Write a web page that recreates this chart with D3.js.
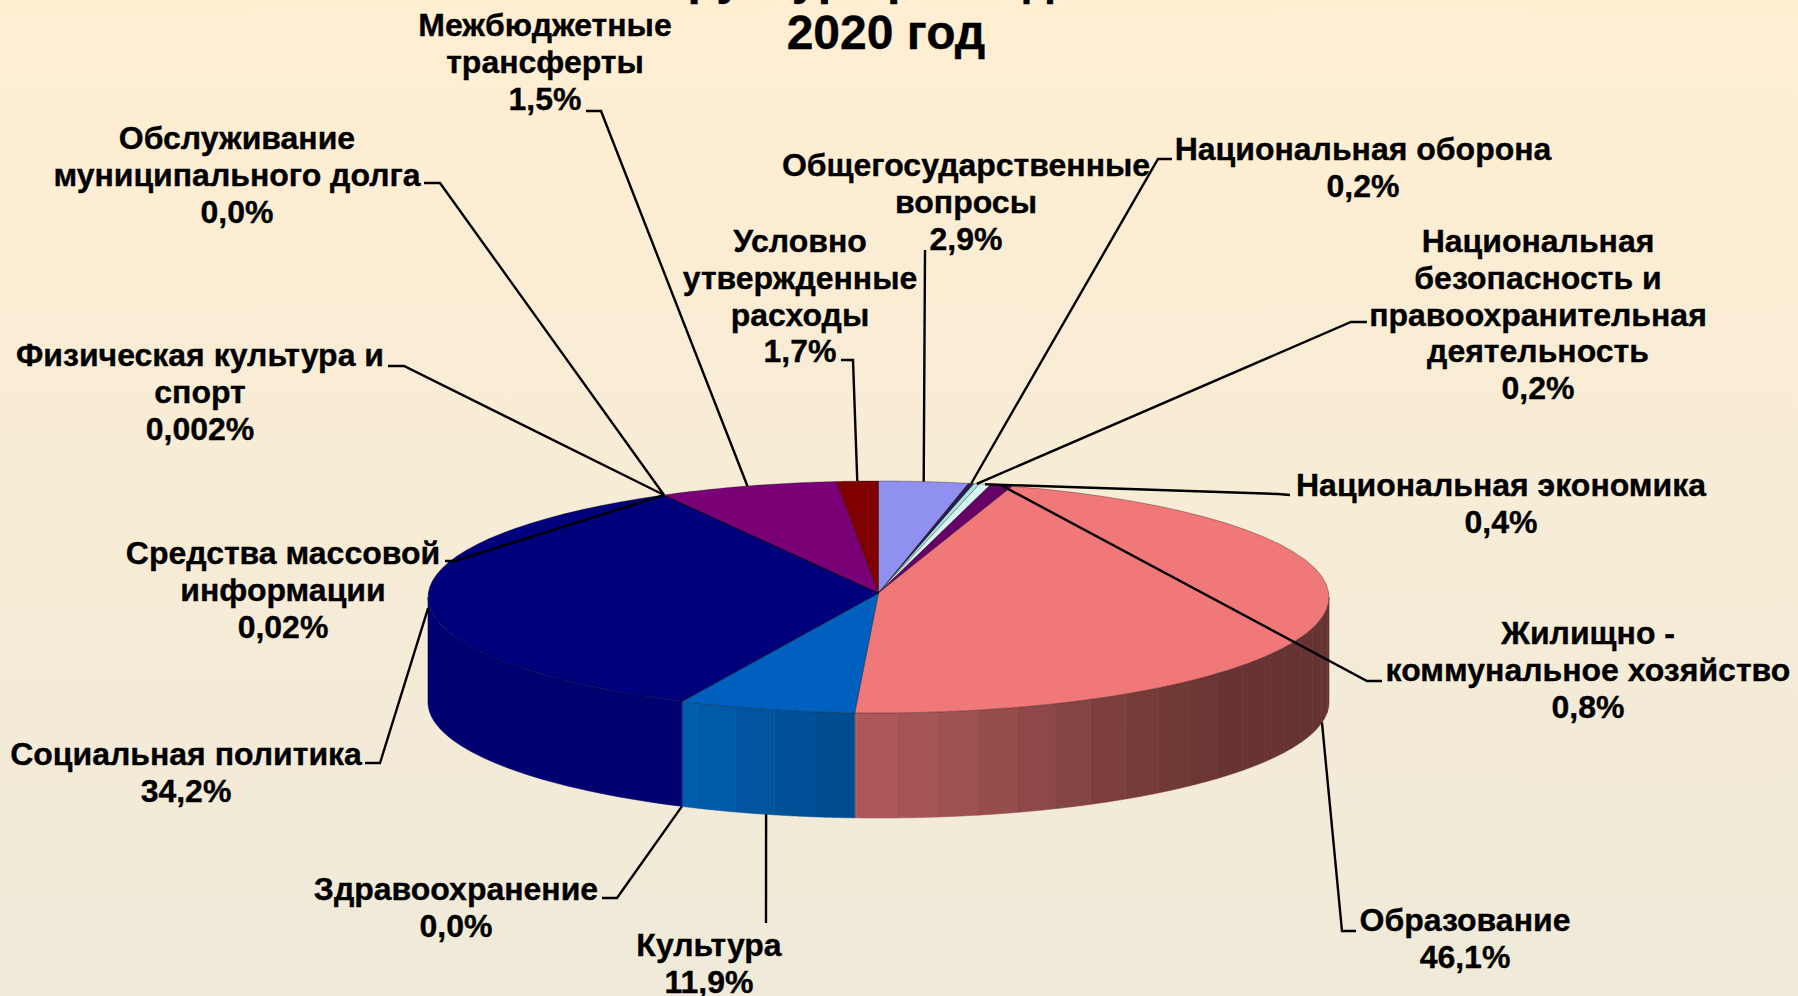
<!DOCTYPE html>
<html>
<head>
<meta charset="utf-8">
<script src="https://cdn.jsdelivr.net/npm/d3@7"></script>
<style>
  html, body { margin: 0; padding: 0; background: #f0ebd8; overflow: hidden; }
  text { font-family: "Liberation Sans", Arial, sans-serif; font-weight: bold; fill: #000; stroke: #000; stroke-width: 0.35px; }
</style>
</head>
<body>
<div id="chart"></div>
<script>
// Slices clockwise from 12 o'clock
const categories = ['Общегосударственные вопросы', 'Национальная оборона', 'Национальная безопасность и правоохранительная деятельность',
    'Национальная экономика', 'Жилищно - коммунальное хозяйство', 'Образование', 'Культура', 'Здравоохранение',
    'Социальная политика', 'Средства массовой информации', 'Физическая культура и спорт',
    'Обслуживание муниципального долга', 'Межбюджетные трансферты', 'Условно утвержденные расходы'];
// share of the circle as drawn (not the same as the printed percent)
const drawnShares = [3.2, 0.2, 0.2, 0.4, 0.8, 46.05, 6.35, 0, 34.9, 0.02, 0.002, 0, 6.4, 1.5];
const percentLabels = ['2,9%', '0,2%', '0,2%', '0,4%', '0,8%', '46,1%', '11,9%', '0,0%', '34,2%', '0,02%', '0,002%', '0,0%', '1,5%', '1,7%'];
const labelLines = [
    ['Общегосударственные', 'вопросы'], ['Национальная оборона'],
    ['Национальная', 'безопасность и', 'правоохранительная', 'деятельность'],
    ['Национальная экономика'], ['Жилищно -', 'коммунальное хозяйство'], ['Образование'], ['Культура'], ['Здравоохранение'],
    ['Социальная политика'], ['Средства массовой', 'информации'], ['Физическая культура и', 'спорт'],
    ['Обслуживание', 'муниципального долга'], ['Межбюджетные', 'трансферты'], ['Условно', 'утвержденные', 'расходы']
];
const titleLines = ['Структура расходов', '2020 год'];

// Styles and layout, kept apart from the values
const topColors = ['#9090f0', '#2a1a50', '#a8e4e0', '#d8f4f0', '#660066', '#f07878', '#0060c0', '#0060c0', '#00007c', '#00007c', '#00007c', '#00007c', '#7a0078', '#800000'];
const wallStops = { 5: ['#663333', '#663333', '#683433', '#7a3e3a', '#9a4f4f', '#b35c5c'], 6: ['#004c90', '#0060b0'] };
const labelCenters = [[966, 176], [1363, 160], [1538, 252], [1501, 496], [1588, 644], [1465, 931], [709, 956], [456, 900],
    [186, 765], [283, 564], [200, 366], [237, 149], [545, 36], [800, 252]];
// where the leader leaves the label: [start x, start y, elbow x, elbow y]
const leaderElbows = [[925, 250, 925, 250], [1172, 159, 1158, 159], [1367, 322, 1351, 322], [1290, 495, 1278, 494], [1382, 681, 1367, 681],
    [1356, 931, 1342, 931], [766, 923, 766, 923], [602, 898, 617, 898], [365, 763, 380, 763], [445, 561, 455, 561], [388, 366, 404, 366],
    [424, 183, 440, 183], [586, 111, 601, 111], [841, 360, 853, 360]];
// how far down the wall the leader lands (0 = top rim, 1 = bottom rim), upper half of the pie stays 0
const leaderDrop = [0, 0, 0, 0, 0, 1, 1, 1, 0.08, 0, 0, 0, 0, 0];

const dimensions = { width: 1798, height: 996, cx: 878.5, cy: 597, apexY: 593, rx: 450.5, ry: 116, depth: 105, lineHeight: 36.8, labelSize: 32 };

const svg = d3.select('#chart').append('svg')
    .attr('width', dimensions.width)
    .attr('height', dimensions.height)
    .style('display', 'block');

const bg = svg.append('defs').append('linearGradient')
    .attr('id', 'bg').attr('x1', 0).attr('y1', 0).attr('x2', 0).attr('y2', 1);
bg.append('stop').attr('offset', 0).attr('stop-color', '#ffeed2');
bg.append('stop').attr('offset', 1).attr('stop-color', '#efead9');
svg.append('rect').attr('width', dimensions.width).attr('height', dimensions.height).attr('fill', 'url(#bg)');

const rim = (a, drop = 0) => [
    dimensions.cx + dimensions.rx * Math.sin(a),
    dimensions.cy - dimensions.ry * Math.cos(a) + drop * dimensions.depth
];

const arcs = d3.pie().value(d => d).sort(null).sortValues(null)(drawnShares);
const line = d3.line();
const sample = (a0, a1) => d3.range(0, 41).map(i => a0 + (a1 - a0) * i / 40);

// Walls, only the front half shows
const walls = svg.append('g');
arcs.forEach((d, i) => {
    const a0 = Math.max(d.startAngle, Math.PI / 2);
    const a1 = Math.min(d.endAngle, Math.PI * 1.5);
    if (a1 <= a0) return;
    const stops = wallStops[i];
    const shade = stops ? d3.scaleLinear()
        .domain(d3.range(stops.length).map(k => a0 + (a1 - a0) * k / (stops.length - 1)))
        .range(stops) : () => '#000070';
    // flat slices get one band, shaded ones are stepped
    const step = stops ? 0.09 : a1 - a0;
    d3.range(a0, a1 - 1e-6, step).forEach(b => {
        const end = Math.min(b + step, a1);
        const top = sample(b, end).map(a => rim(a));
        const bottom = sample(b, end).map(a => rim(a, 1)).reverse();
        walls.append('path')
            .attr('d', line(top.concat(bottom)) + 'Z')
            .attr('fill', shade(b))
            .attr('stroke', shade(b))
            .attr('stroke-width', 0.6);
    });
});

// Top face
svg.append('g').selectAll('path')
    .data(arcs)
    .join('path')
    .attr('d', d => line([[dimensions.cx, dimensions.apexY]].concat(sample(d.startAngle, d.endAngle).map(a => rim(a)))) + 'Z')
    .attr('fill', (d, i) => topColors[i])
    .attr('stroke', 'rgba(0,0,0,0.3)')
    .attr('stroke-width', 1);

// Leaders, each runs to the middle of its slice on the rim
svg.append('g').selectAll('path')
    .data(arcs)
    .join('path')
    .attr('d', (d, i) => {
        const e = leaderElbows[i];
        return line([[e[0], e[1]], [e[2], e[3]], rim((d.startAngle + d.endAngle) / 2, leaderDrop[i])]);
    })
    .attr('fill', 'none')
    .attr('stroke', '#000')
    .attr('stroke-width', 2.4);

// Labels
const labels = svg.append('g').attr('font-size', dimensions.labelSize);
categories.forEach((name, i) => {
    const rows = labelLines[i].concat(percentLabels[i]);
    const [x, y] = labelCenters[i];
    rows.forEach((row, k) => {
        labels.append('text')
            .attr('x', x)
            .attr('y', y + k * dimensions.lineHeight)
            .attr('text-anchor', 'middle')
            .text(row);
    });
});

// first title line sits mostly above the page, as in the source slide
svg.append('g').selectAll('text')
    .data(titleLines)
    .join('text')
    .attr('x', (d, i) => i ? 886 : 871)
    .attr('y', (d, i) => -6 + i * 55)
    .attr('text-anchor', 'middle')
    .attr('font-size', 48)
    .text(d => d);
</script>
</body>
</html>
